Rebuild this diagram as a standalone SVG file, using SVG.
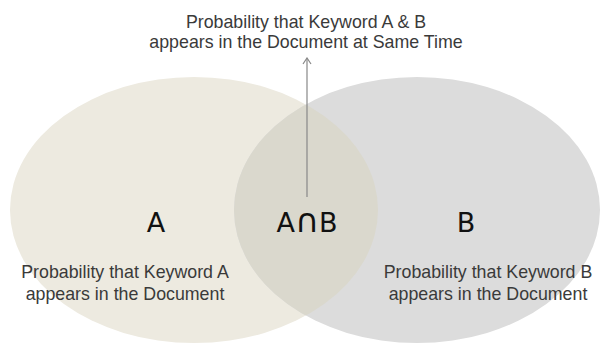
<svg xmlns="http://www.w3.org/2000/svg" width="602" height="346" viewBox="0 0 602 346">
<style>
.lbl{font-family:"Liberation Sans",Arial,sans-serif;font-size:17.8px;fill:#3a3a3a;text-anchor:middle}
.big{font-family:"DejaVu Sans","Liberation Sans",sans-serif;font-size:27px;fill:#111;text-anchor:middle}
.cap{font-size:33px}
</style>
<defs>
<clipPath id="clipA"><ellipse cx="194" cy="210" rx="184" ry="133"/></clipPath>
<marker id="arr" markerWidth="10" markerHeight="10" refX="9" refY="5" orient="auto" markerUnits="userSpaceOnUse" viewBox="0 0 10 10">
<path d="M3,1 L9,5 L3,9" fill="none" stroke="#888" stroke-width="1.2"/>
</marker>
</defs>
<rect width="602" height="346" fill="#fff"/>
<g id="setA"><ellipse cx="194" cy="210" rx="184" ry="133" fill="#edeae0"/></g>
<g id="setB"><ellipse cx="417" cy="210" rx="183" ry="133" fill="#dcdcdc"/></g>
<g id="intersection"><ellipse cx="417" cy="210" rx="183" ry="133" fill="#dad8cd" clip-path="url(#clipA)"/></g>
<g id="connectors">
<line x1="307" y1="197" x2="307" y2="58" stroke="#888" stroke-width="1.2" marker-end="url(#arr)"/>
</g>
<g id="labels">
<text class="lbl" x="306" y="28">Probability that Keyword A &amp; B</text>
<text class="lbl" x="306" y="48">appears in the Document at Same Time</text>
<text class="big" x="156" y="232">A</text>
<text class="big" x="307" y="232">A<tspan class="cap">∩</tspan>B</text>
<text class="big" x="466" y="232">B</text>
<text class="lbl" x="125" y="278">Probability that Keyword A</text>
<text class="lbl" x="125" y="300">appears in the Document</text>
<text class="lbl" x="488" y="278">Probability that Keyword B</text>
<text class="lbl" x="488" y="300">appears in the Document</text>
</g>
</svg>
